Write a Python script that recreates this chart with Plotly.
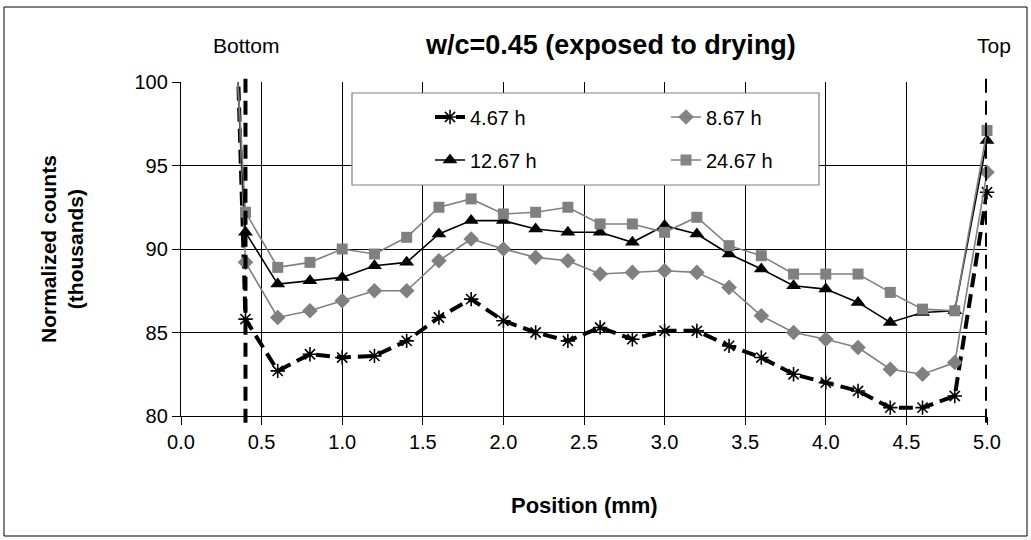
import plotly.graph_objects as go

# ---- data ----
position_mm = [0.2, 0.4, 0.6, 0.8, 1.0, 1.2, 1.4, 1.6, 1.8, 2.0, 2.2, 2.4, 2.6,
               2.8, 3.0, 3.2, 3.4, 3.6, 3.8, 4.0, 4.2, 4.4, 4.6, 4.8, 5.0]
counts_4_67h = [150, 85.8, 82.7, 83.7, 83.5, 83.6, 84.5, 85.9, 87.0, 85.7, 85.0, 84.5, 85.3,
                84.6, 85.1, 85.1, 84.2, 83.5, 82.5, 82.0, 81.5, 80.5, 80.5, 81.2, 93.4]
counts_8_67h = [135, 89.2, 85.9, 86.3, 86.9, 87.5, 87.5, 89.3, 90.6, 90.0, 89.5, 89.3, 88.5,
                88.6, 88.7, 88.6, 87.7, 86.0, 85.0, 84.6, 84.1, 82.8, 82.5, 83.2, 94.6]
counts_12_67h = [130, 91.0, 87.9, 88.1, 88.3, 89.0, 89.2, 90.9, 91.7, 91.7, 91.2, 91.0, 91.0,
                 90.4, 91.4, 90.9, 89.7, 88.8, 87.8, 87.6, 86.8, 85.6, 86.2, 86.3, 96.5]
counts_24_67h = [125, 92.2, 88.9, 89.2, 90.0, 89.7, 90.7, 92.5, 93.0, 92.1, 92.2, 92.5, 91.5,
                 91.5, 91.0, 91.9, 90.2, 89.6, 88.5, 88.5, 88.5, 87.4, 86.4, 86.3, 97.1]
series_names = ["4.67 h", "8.67 h", "12.67 h", "24.67 h"]
sample_edges_mm = [0.4, 5.0]
x_ticks = [0.0, 0.5, 1.0, 1.5, 2.0, 2.5, 3.0, 3.5, 4.0, 4.5, 5.0]
y_ticks = [80, 85, 90, 95, 100]

FONT = "Liberation Sans, Arial, sans-serif"
GRAY = "#808080"
Y_MIN, Y_MAX = 80, 100

L, R, T, B = 181, 44, 82, 124
W, H = 1031, 540
pw, ph = W - L - R, H - T - B


def px_to_paper_x(px):
    return (px - L) / pw


def px_to_paper_y(py):
    return (H - B - py) / ph


def visible(vals):
    return [1 if Y_MIN - 1 <= v <= Y_MAX + 1 else 0 for v in vals]


fig = go.Figure()

styles = [
    (counts_4_67h, dict(color="black", width=4, dash="14px,7px"),
     dict(symbol="asterisk-open", size=12, color="black", line=dict(color="black", width=1.6))),
    (counts_8_67h, dict(color=GRAY, width=1.6),
     dict(symbol="diamond", size=12, color=GRAY, line=dict(width=0))),
    (counts_12_67h, dict(color="black", width=1.6),
     dict(symbol="triangle-up", size=13, color="black", line=dict(width=0))),
    (counts_24_67h, dict(color=GRAY, width=1.6),
     dict(symbol="square", size=11, color=GRAY, line=dict(width=0))),
]

# legend layout: 2 columns x 2 rows (one single-item legend per entry)
legend_ids = ["legend", "legend2", "legend3", "legend4"]
legend_text_px = [472, 708, 472, 708]
legend_rows_px = [117, 117, 160, 160]

for name, (vals, line, marker), lid in zip(series_names, styles, legend_ids):
    marker = dict(marker)
    marker["opacity"] = visible(vals)
    fig.add_trace(go.Scatter(
        x=position_mm, y=vals, name=name, mode="lines+markers",
        line=line, marker=marker, cliponaxis=False, legend=lid,
    ))

# sample boundaries (thick dashed verticals)
for xe in sample_edges_mm:
    fig.add_shape(type="line", xref="x", yref="y domain", x0=xe, x1=xe,
                  y0=-0.02, y1=1.02, line=dict(color="black", width=4, dash="14px,8px"))

# legend box
fig.add_shape(type="rect", xref="paper", yref="paper",
              x0=px_to_paper_x(352), x1=px_to_paper_x(819),
              y0=px_to_paper_y(185), y1=px_to_paper_y(93),
              line=dict(color=GRAY, width=1.2), fillcolor="white", layer="above")

# outer chart border
fig.add_shape(type="rect", xref="paper", yref="paper",
              x0=px_to_paper_x(4), x1=px_to_paper_x(1027),
              y0=px_to_paper_y(536), y1=px_to_paper_y(7),
              line=dict(color="black", width=1), fillcolor="rgba(0,0,0,0)", layer="below")

annotations = [
    dict(text="<b>w/c=0.45 (exposed to drying)</b>", x=px_to_paper_x(610), y=px_to_paper_y(45),
         font=dict(size=27, color="black", family=FONT)),
    dict(text="Bottom", x=px_to_paper_x(246), y=px_to_paper_y(45),
         font=dict(size=21, color="black", family=FONT)),
    dict(text="Top", x=px_to_paper_x(994), y=px_to_paper_y(45),
         font=dict(size=21, color="black", family=FONT)),
    dict(text="<b>Position (mm)</b>", x=0.5, y=px_to_paper_y(505),
         font=dict(size=22, color="black", family=FONT)),
    dict(text="<b>Normalized counts<br>(thousands)</b>", x=px_to_paper_x(62), y=0.5,
         textangle=-90, font=dict(size=21, color="black", family=FONT)),
]
for a in annotations:
    a.update(xref="paper", yref="paper", showarrow=False, xanchor="center", yanchor="middle")

legend_common = dict(
    orientation="v", xanchor="left", yanchor="middle",
    bgcolor="rgba(0,0,0,0)", borderwidth=0,
    font=dict(size=20, family=FONT, color="black"),
)
layout_legends = {}
for lid, tx, cy in zip(legend_ids, legend_text_px, legend_rows_px):
    layout_legends[lid] = dict(legend_common, x=px_to_paper_x(tx - 42), y=px_to_paper_y(cy))

fig.update_layout(
    width=W, height=H,
    margin=dict(l=L, r=R, t=T, b=B),
    paper_bgcolor="white", plot_bgcolor="white",
    font=dict(family=FONT, size=18, color="black"),
    annotations=annotations,
    showlegend=True,
    **layout_legends,
    xaxis=dict(
        range=[0, 5], tickvals=x_ticks, tickformat=".1f",
        showgrid=True, gridcolor="black", gridwidth=1.3,
        showline=True, linecolor="black", linewidth=1.3,
        ticks="outside", ticklen=8, tickwidth=1.3, tickcolor="black",
        zeroline=False, tickfont=dict(size=20, family=FONT, color="black"),
    ),
    yaxis=dict(
        range=[Y_MIN, Y_MAX], tickvals=y_ticks,
        showgrid=True, gridcolor="black", gridwidth=1.3,
        showline=True, linecolor="black", linewidth=1.3,
        ticks="outside", ticklen=8, tickwidth=1.3, tickcolor="black",
        zeroline=False, tickfont=dict(size=20, family=FONT, color="black"),
    ),
)

fig.write_html("out.html")
